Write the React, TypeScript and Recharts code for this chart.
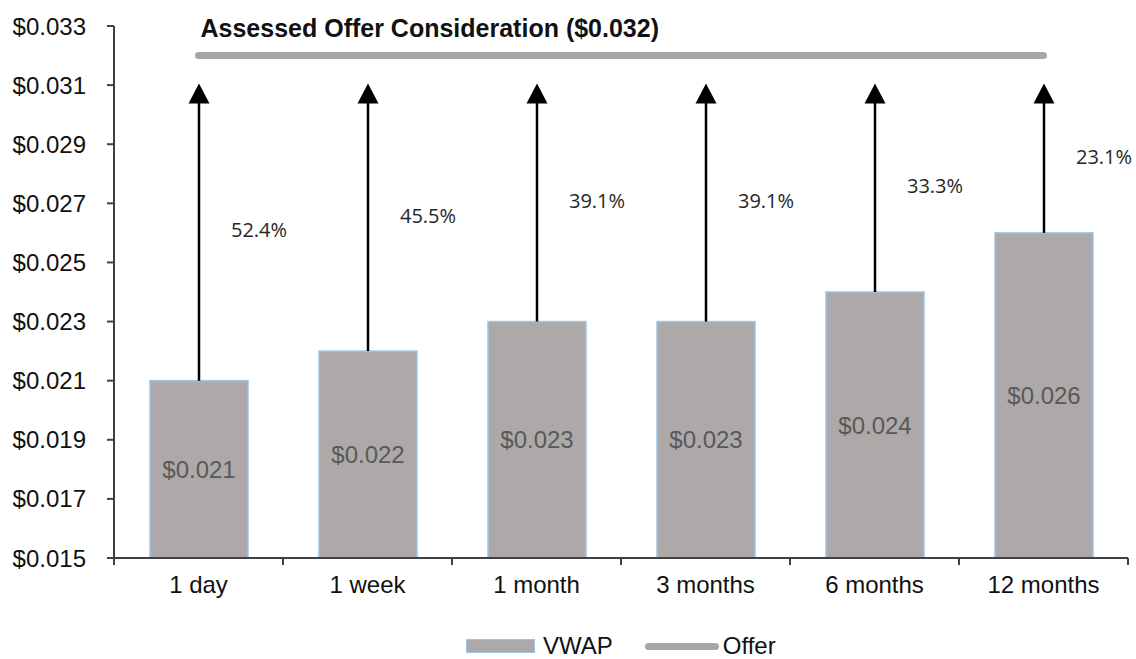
import { ComposedChart, Bar, Line, XAxis, YAxis, LabelList } from 'recharts';

// valores
const periods = ['1 day', '1 week', '1 month', '3 months', '6 months', '12 months'];
const vwap = [0.021, 0.022, 0.023, 0.023, 0.024, 0.026];
const offerValue = 0.032;
const yTicks = [0.015, 0.017, 0.019, 0.021, 0.023, 0.025, 0.027, 0.029, 0.031, 0.033];

const Y_MIN = yTicks[0];
const Y_MAX = yTicks[yTicks.length - 1];

const chartData = periods.map((p, i) => ({
  period: p,
  vwap: vwap[i],
  offer: offerValue,
}));

const FONT = '"Liberation Sans", Arial, sans-serif';
const money = (v: number) => `$${Number(v).toFixed(3)}`;
const premium = (v: number) => `${((offerValue / v - 1) * 100).toFixed(1)}%`;

// barra + seta até a linha da oferta
const BarWithArrow = (props: any) => {
  const { x, y, width, height, payload } = props;
  const pxPerUnit = height / (payload.vwap - Y_MIN);
  const offerY = y - (payload.offer - payload.vwap) * pxPerUnit;
  const tipY = offerY + 28;
  const cx = x + width / 2;
  const labelY = (y + tipY) / 2;
  return (
    <g>
      <rect x={x} y={y} width={width} height={height} fill="#ADA9A8" stroke="#9DC3E6" strokeWidth={1.5} />
      <line x1={cx} y1={y} x2={cx} y2={tipY + 18} stroke="#000" strokeWidth={2.5} />
      <polygon points={`${cx},${tipY} ${cx - 10.5},${tipY + 20} ${cx + 10.5},${tipY + 20}`} fill="#000" />
      <text
        x={cx + 60}
        y={labelY}
        textAnchor="middle"
        dominantBaseline="middle"
        fontFamily='"Open Sans", "Noto Sans", sans-serif'
        fontSize={20}
        fill="#262626"
      >
        {premium(payload.vwap)}
      </text>
    </g>
  );
};

const XTick = (props: any) => {
  const { x, y, payload, index } = props;
  const half = payload.offset || 84.5;
  return (
    <g>
      {index === 0 && <line x1={x - half} y1={y} x2={x - half} y2={y + 7} stroke="#404040" strokeWidth={2} />}
      <line x1={x + half} y1={y} x2={x + half} y2={y + 7} stroke="#404040" strokeWidth={2} />
      <text x={x} y={y + 35} textAnchor="middle" fontFamily={FONT} fontSize={24} fill="#111">
        {payload.value}
      </text>
    </g>
  );
};

const OfferTitle = (props: any) => {
  const { x, y, index } = props;
  if (index !== 0) return null;
  return (
    <text x={x + 2} y={y - 19} fontFamily={FONT} fontWeight="bold" fontSize={25} fill="#111">
      {`Assessed Offer Consideration (${money(offerValue)})`}
    </text>
  );
};

export default function App() {
  return (
    <div style={{ position: 'absolute', left: 0, top: 0, width: 1136, height: 659, background: '#fff', overflow: 'hidden' }}>
      <ComposedChart
        width={1136}
        height={659}
        data={chartData}
        margin={{ top: 26, right: 8, left: 8, bottom: 41 }}
      >
        <XAxis
          dataKey="period"
          height={60}
          stroke="#404040"
          axisLine={{ stroke: '#404040', strokeWidth: 2 }}
          tickLine={false}
          tickSize={0}
          tickMargin={0}
          tick={<XTick />}
          interval={0}
        />
        <YAxis
          width={106}
          domain={[Y_MIN, Y_MAX]}
          ticks={yTicks}
          tickFormatter={money}
          axisLine={{ stroke: '#404040', strokeWidth: 2 }}
          tickLine={{ stroke: '#404040', strokeWidth: 2 }}
          tickSize={7}
          tickMargin={21}
          tick={{ fontFamily: FONT, fontSize: 24, fill: '#111' }}
          interval={0}
        />
        <Bar dataKey="vwap" name="VWAP" barSize={98} shape={<BarWithArrow />} isAnimationActive={false}>
          <LabelList
            dataKey="vwap"
            position="center"
            formatter={(v: any) => money(v)}
            style={{ fontFamily: FONT, fontSize: 24, fill: '#595959' }}
          />
        </Bar>
        <Line
          dataKey="offer"
          name="Offer"
          stroke="#A6A6A6"
          strokeWidth={7}
          strokeLinecap="round"
          dot={false}
          activeDot={false}
          label={<OfferTitle />}
          isAnimationActive={false}
        />
      </ComposedChart>
      <div
        style={{
          position: 'absolute',
          left: 466,
          top: 634,
          height: 24,
          display: 'flex',
          alignItems: 'center',
          fontFamily: FONT,
          fontSize: 24,
          color: '#111',
          lineHeight: '24px',
        }}
      >
        <span style={{ display: 'inline-block', width: 67, height: 12, background: '#ADA9A8', border: '1px solid #9DC3E6', marginRight: 8 }} />
        <span>VWAP</span>
        <span style={{ display: 'inline-block', width: 74, height: 7, borderRadius: 4, background: '#A6A6A6', marginLeft: 32, marginRight: 4 }} />
        <span>Offer</span>
      </div>
    </div>
  );
}
